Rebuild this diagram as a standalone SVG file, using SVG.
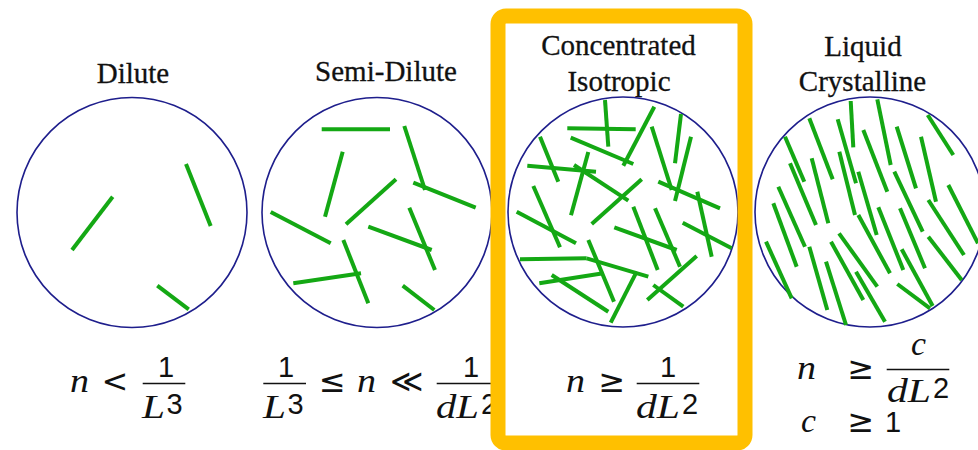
<svg xmlns="http://www.w3.org/2000/svg" width="978" height="450" viewBox="0 0 978 450">
<style>
.bg{fill:#ffffff}
.circ{fill:none;stroke:#1e1e8c;stroke-width:1.6}
.rod{stroke:#14a814;stroke-width:4;stroke-linecap:butt;fill:none}
.title{font-family:"Liberation Serif","Times New Roman",serif;font-size:29px;fill:#111;stroke:#111;stroke-width:0.3;text-anchor:middle}
.mi{font-family:"Liberation Serif","Times New Roman",serif;font-style:italic;font-size:34px;fill:#111}
.mo{font-family:"DejaVu Sans",sans-serif;font-size:32px;fill:#111;text-anchor:middle}
.num{font-family:"Liberation Sans",Arial,sans-serif;font-size:29px;fill:#111}
.bar{stroke:#111;stroke-width:1.5}
.box{fill:none;stroke:#FFC000;stroke-width:15}
</style>
<rect class="bg" x="0" y="0" width="978" height="450"/>

<g id="dilute">
<text class="title" x="133" y="83">Dilute</text>
<circle class="circ" cx="132" cy="212.5" r="115"/>
<g class="rod">
<line x1="112.7" y1="196.7" x2="72" y2="250"/>
<line x1="186" y1="164" x2="210.7" y2="226"/>
<line x1="157.3" y1="285.7" x2="188.7" y2="309.3"/>
</g>
<g id="dilute-formula">
<text class="mi" x="70" y="392" textLength="19" lengthAdjust="spacingAndGlyphs">n</text>
<text class="mo" x="115" y="392">&lt;</text>
<line class="bar" x1="142.7" y1="383.5" x2="185.3" y2="383.5"/>
<text class="num" x="166" y="377" text-anchor="middle">1</text>
<text class="mi" x="142" y="418" textLength="23" lengthAdjust="spacingAndGlyphs">L</text>
<text class="num" x="166.5" y="414">3</text>
</g>
</g>

<g id="semi-dilute">
<text class="title" x="386" y="81">Semi-Dilute</text>
<circle class="circ" cx="377" cy="212.5" r="115"/>
<g class="rod">
<line x1="321.7" y1="129.3" x2="390" y2="129.3"/>
<line x1="404.3" y1="126" x2="425" y2="190"/>
<line x1="342.7" y1="151.7" x2="325" y2="216.7"/>
<line x1="396" y1="179.3" x2="346" y2="224.3"/>
<line x1="413.3" y1="182.7" x2="475.7" y2="207.7"/>
<line x1="270.7" y1="212" x2="330.7" y2="243.3"/>
<line x1="409.3" y1="207.7" x2="435" y2="270"/>
<line x1="368.3" y1="226.7" x2="431.7" y2="250"/>
<line x1="343.3" y1="240" x2="368.3" y2="303.3"/>
<line x1="293.3" y1="283.3" x2="361" y2="273.3"/>
<line x1="402.7" y1="285.7" x2="434.3" y2="310"/>
</g>
<g id="semi-dilute-formula">
<line class="bar" x1="263.3" y1="383.5" x2="306" y2="383.5"/>
<text class="num" x="286" y="377" text-anchor="middle">1</text>
<text class="mi" x="263" y="418" textLength="23" lengthAdjust="spacingAndGlyphs">L</text>
<text class="num" x="287.5" y="414">3</text>
<text class="mo" x="332.5" y="392">≤</text>
<text class="mi" x="357" y="392" textLength="19" lengthAdjust="spacingAndGlyphs">n</text>
<text class="mo" x="406.7" y="392">≪</text>
<line class="bar" x1="436.7" y1="383.5" x2="500" y2="383.5"/>
<text class="num" x="471" y="377" text-anchor="middle">1</text>
<text class="mi" x="436" y="418" textLength="43" lengthAdjust="spacingAndGlyphs">dL</text>
<text class="num" x="481" y="414">2</text>
</g>
</g>

<g id="concentrated-isotropic">
<text class="title" x="618.5" y="55">Concentrated</text>
<text class="title" x="619" y="90.5">Isotropic</text>
<circle class="circ" cx="623" cy="212" r="115"/>
<g class="rod">
<line x1="605" y1="100" x2="608.3" y2="146.7"/>
<line x1="567.3" y1="128.3" x2="635.7" y2="129.3"/>
<line x1="570.7" y1="137.7" x2="633.3" y2="164"/>
<line x1="654.3" y1="106.7" x2="623.3" y2="165.7"/>
<line x1="681" y1="114" x2="675" y2="163.3"/>
<line x1="691" y1="136.7" x2="675" y2="201"/>
<line x1="651.7" y1="126.7" x2="671.7" y2="190"/>
<line x1="540" y1="136.7" x2="558.3" y2="181.7"/>
<line x1="527.3" y1="165.7" x2="596" y2="171.7"/>
<line x1="588.3" y1="152" x2="571" y2="215.3"/>
<line x1="574" y1="165" x2="628.3" y2="200.7"/>
<line x1="641.7" y1="179.3" x2="591.7" y2="224"/>
<line x1="658.3" y1="181.7" x2="720" y2="208.3"/>
<line x1="697.3" y1="191.7" x2="711.7" y2="256.7"/>
<line x1="533.3" y1="186" x2="560" y2="247.3"/>
<line x1="516.7" y1="211.7" x2="576" y2="243.3"/>
<line x1="633.3" y1="206.7" x2="657.7" y2="270"/>
<line x1="655" y1="208.3" x2="680" y2="266.7"/>
<line x1="614.3" y1="227.3" x2="676.7" y2="250"/>
<line x1="682.7" y1="222.7" x2="731.7" y2="248.3"/>
<line x1="520" y1="259.3" x2="586.7" y2="258.3"/>
<line x1="586.7" y1="258.3" x2="648.3" y2="276.7"/>
<line x1="588.3" y1="240" x2="614" y2="301.7"/>
<line x1="539.3" y1="283.3" x2="603.3" y2="273.3"/>
<line x1="551.7" y1="275" x2="608.3" y2="311.7"/>
<line x1="636.7" y1="271.7" x2="610.7" y2="322.7"/>
<line x1="696.7" y1="256" x2="647.3" y2="300"/>
<line x1="653.3" y1="285" x2="683.3" y2="306.7"/>
</g>
<g id="concentrated-formula">
<text class="mi" x="566" y="392" textLength="19" lengthAdjust="spacingAndGlyphs">n</text>
<text class="mo" x="612" y="392">≥</text>
<line class="bar" x1="636.7" y1="383.5" x2="699.3" y2="383.5"/>
<text class="num" x="668" y="377" text-anchor="middle">1</text>
<text class="mi" x="636" y="418" textLength="44" lengthAdjust="spacingAndGlyphs">dL</text>
<text class="num" x="682" y="414">2</text>
</g>
</g>

<g id="liquid-crystalline">
<text class="title" x="863" y="56">Liquid</text>
<text class="title" x="862.5" y="90.5">Crystalline</text>
<circle class="circ" cx="870" cy="212" r="115"/>
<g class="rod">
<line x1="850.7" y1="101" x2="853.3" y2="147.3"/>
<line x1="877.3" y1="99.3" x2="890.7" y2="165"/>
<line x1="927.7" y1="115" x2="953.3" y2="155"/>
<line x1="809.3" y1="118.3" x2="832.7" y2="179.3"/>
<line x1="837.7" y1="119.3" x2="856" y2="183.3"/>
<line x1="863.3" y1="130" x2="887.3" y2="191.7"/>
<line x1="896.7" y1="126.7" x2="916" y2="188.3"/>
<line x1="921" y1="136.7" x2="936" y2="201.7"/>
<line x1="785" y1="136.7" x2="804.3" y2="181.7"/>
<line x1="790" y1="163.3" x2="816" y2="225"/>
<line x1="811.7" y1="158.3" x2="828.3" y2="223.3"/>
<line x1="839.3" y1="151.7" x2="855" y2="215"/>
<line x1="858.3" y1="171.7" x2="876.7" y2="235"/>
<line x1="894.3" y1="171.7" x2="922.7" y2="231.7"/>
<line x1="778.3" y1="186.7" x2="805" y2="246.7"/>
<line x1="773.3" y1="203.3" x2="796.7" y2="266.7"/>
<line x1="948.3" y1="185" x2="978" y2="243.3"/>
<line x1="928.3" y1="200" x2="964" y2="255"/>
<line x1="900" y1="208.3" x2="925" y2="268.3"/>
<line x1="878.3" y1="207.3" x2="903.3" y2="270"/>
<line x1="858.3" y1="215" x2="890" y2="273.3"/>
<line x1="766" y1="241.7" x2="791.7" y2="298.3"/>
<line x1="809.3" y1="246.7" x2="827.3" y2="310"/>
<line x1="831" y1="241.7" x2="863.3" y2="300"/>
<line x1="839" y1="233.3" x2="877.3" y2="286.7"/>
<line x1="826" y1="261.7" x2="846" y2="325"/>
<line x1="856" y1="271.7" x2="885" y2="321.7"/>
<line x1="928.3" y1="236.7" x2="961.7" y2="280"/>
<line x1="901.7" y1="249.3" x2="932.7" y2="306"/>
<line x1="897.3" y1="284" x2="930" y2="308.3"/>
</g>
<g id="liquid-formula">
<text class="mi" x="797" y="379" textLength="19" lengthAdjust="spacingAndGlyphs">n</text>
<text class="mo" x="861" y="379">≥</text>
<line class="bar" x1="886.7" y1="369.5" x2="949.3" y2="369.5"/>
<text class="mi" x="911" y="355" textLength="15" lengthAdjust="spacingAndGlyphs">c</text>
<text class="mi" x="887" y="402" textLength="44" lengthAdjust="spacingAndGlyphs">dL</text>
<text class="num" x="933" y="398">2</text>
<text class="mi" x="801" y="432" textLength="15" lengthAdjust="spacingAndGlyphs">c</text>
<text class="mo" x="861" y="432">≥</text>
<text class="num" x="885" y="432">1</text>
</g>
</g>

<g id="highlight">
<rect class="box" x="498" y="16" width="247" height="427" rx="8"/>
</g>
</svg>
